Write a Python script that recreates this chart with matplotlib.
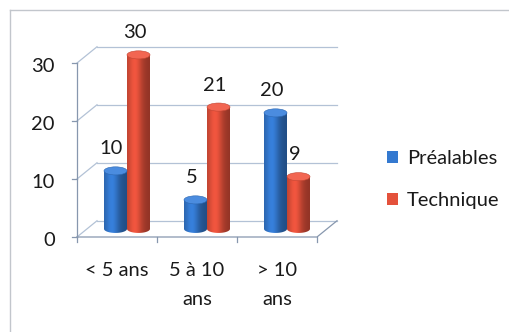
import numpy as np
import matplotlib.pyplot as plt
from matplotlib.patches import Ellipse, Polygon, Patch
from matplotlib.lines import Line2D
import matplotlib.colors as mcolors

plt.rcParams.update({
    "font.family": ["Lato", "DejaVu Sans"],
    "font.size": 14.5,
    "text.color": "#1a1a1a",
})

categories = ["< 5 ans", "5 à 10\nans", "> 10\nans"]
series_names = ["Préalables", "Technique"]
prealables = [10, 5, 20]
technique = [30, 21, 9]
series_values = [prealables, technique]
series_colors = ["#3479d0", "#e4513b"]
yticks = [0, 10, 20, 30]

W, H, DPI = 509, 332, 100
fig = plt.figure(figsize=(W / DPI, H / DPI), dpi=DPI)
# 80 px per category, 5.8 px per unit; front plane x -0.5..2.5 starts at px 77,
# value 0 sits 95 px above the bottom edge
XL, XR, YB, YT = -0.6, 2.9, -6, 36
ax = fig.add_axes([(77 + (XL + 0.5) * 80) / W, (95 + YB * 5.8) / H,
                   (XR - XL) * 80 / W, (YT - YB) * 5.8 / H])
ax.axis("off")

# depth offsets (data units): back wall and the plane of the cylinders
DX, DY = 0.25, 2.8
MX, MY = DX / 2, DY / 2
bar_w = 0.2875
ell_h = 1.4

grid_c = "#b3c2d6"
axis_c = "#8797ae"

# back wall gridlines plus their diagonal on the left wall
for t in yticks:
    ax.plot([-0.5 + DX, 2.5 + DX], [t + DY, t + DY], color=grid_c, lw=0.9, zorder=1)
    ax.plot([-0.5, -0.5 + DX], [t, t + DY], color=grid_c, lw=0.9, zorder=1)
    ax.plot([-0.5 - 0.06, -0.5], [t, t], color=axis_c, lw=0.9, zorder=2)
    ax.annotate(str(t), (-0.5, t), xytext=(-22, -3), textcoords="offset pixels",
                ha="right", va="center", annotation_clip=False)

# floor edges and front axis
ax.plot([-0.5, 2.5, 2.5 + DX], [0, 0, DY], color=axis_c, lw=0.9, zorder=2)
ax.plot([-0.5, -0.5], [0, 30], color=axis_c, lw=0.9, zorder=2)
for k in range(len(categories) + 1):
    ax.plot([k - 0.5, k - 0.5], [0, -0.9], color=axis_c, lw=0.9, zorder=2)

# horizontal shading across a cylinder
shade = np.linspace(0, 1, 64)
profile = 0.76 + 0.34 * np.exp(-((shade - 0.35) / 0.3) ** 2) - 0.12 * shade


def cylinder(cx, value, color, z):
    base = np.array(mcolors.to_rgb(color))
    strip = np.clip(base[None, :] * profile[:, None], 0, 1)[None, :, :]
    y0, y1 = MY, MY + value
    th = np.linspace(np.pi, 2 * np.pi, 40)
    arc = np.column_stack([cx + bar_w / 2 * np.cos(th), y0 + ell_h / 2 * np.sin(th)])
    pts = np.vstack([[cx - bar_w / 2, y1], arc, [cx + bar_w / 2, y1]])
    body = Polygon(pts, closed=True, facecolor="none", edgecolor="none")
    ax.add_patch(body)
    im = ax.imshow(strip, extent=[cx - bar_w / 2, cx + bar_w / 2, y0 - ell_h, y1],
                   aspect="auto", zorder=z, interpolation="bilinear")
    im.set_clip_path(body)
    top = np.clip(base * 0.95 + 0.1, 0, 1)
    ax.add_patch(Ellipse((cx, y1), bar_w, ell_h, facecolor=top,
                         edgecolor=np.clip(base * 0.85, 0, 1), lw=0.4, zorder=z + 0.1))


for i, (vals, col) in enumerate(zip(series_values, series_colors)):
    for j, v in enumerate(vals):
        cx = j + (i - 0.5) * bar_w + MX
        cylinder(cx, v, col, 5 + j)
        ax.annotate(str(v), (cx, MY + v), xytext=(-4, 22), textcoords="offset pixels",
                    ha="center", va="center", annotation_clip=False, zorder=20)

for j, lab in enumerate(categories):
    ax.annotate(lab, (j, 0), xytext=(0, -25), textcoords="offset pixels",
                ha="center", va="top", linespacing=1.85, annotation_clip=False)

ax.set_xlim(XL, XR)
ax.set_ylim(YB, YT)

handles = [Patch(facecolor=c, edgecolor="none") for c in series_colors]
fig.legend(handles, series_names, loc="upper left",
           bbox_to_anchor=(377 / W, 1 - 140 / H), frameon=False,
           handlelength=0.55, handleheight=0.55, handletextpad=0.45,
           labelspacing=1.25, borderpad=0)

# chart area border
fig.add_artist(Line2D([10 / W, 1], [1 - 10 / H, 1 - 10 / H], color="#c2c6cc",
                      lw=1, transform=fig.transFigure))
fig.add_artist(Line2D([10 / W, 10 / W], [0, 1 - 10 / H], color="#c2c6cc",
                      lw=1, transform=fig.transFigure))

fig.savefig("out.png", dpi=DPI)
